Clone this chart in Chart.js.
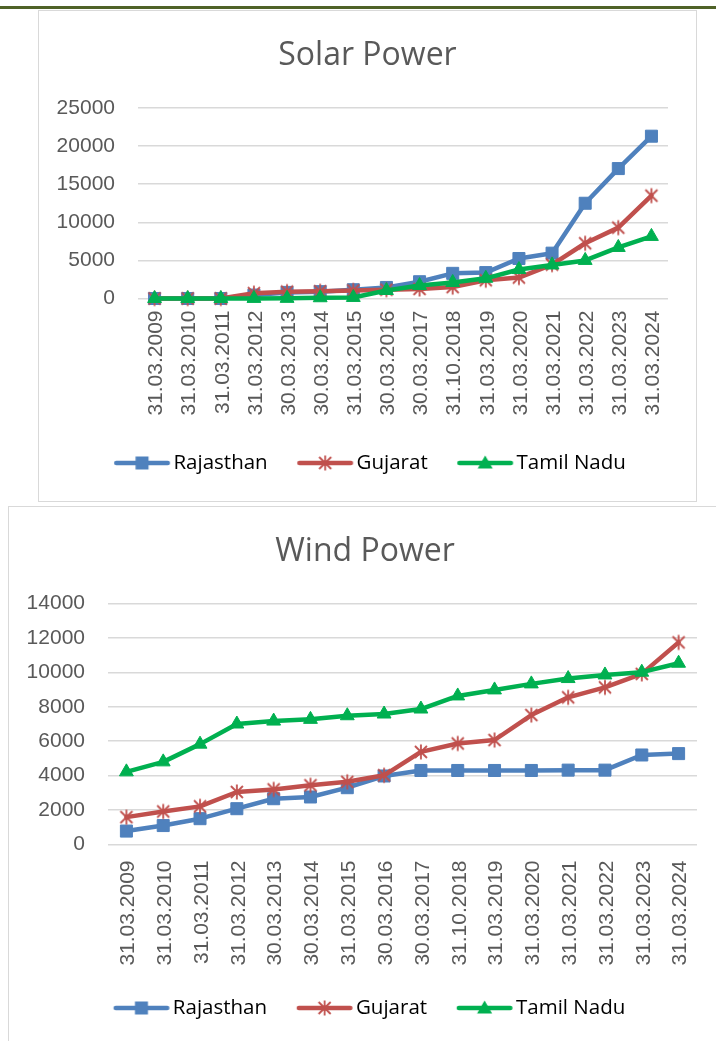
<!DOCTYPE html>
<html>
<head>
<meta charset="utf-8">
<script src="https://cdn.jsdelivr.net/npm/chart.js@4/dist/chart.umd.min.js"></script>
<style>
  html, body { margin: 0; padding: 0; background: #fff; overflow: hidden; width: 716px; height: 1041px; }
  #rule { position: absolute; left: 0; top: 6px; width: 716px; height: 3px; background: #4F6228; }
  .box { position: absolute; border: 1px solid #D9D9D9; background: #fff; }
  #solarBox { left: 38px; top: 10px; width: 657px; height: 490px; }
  #windBox { left: 8px; top: 506px; width: 712px; height: 540px; }
  canvas { display: block; }
</style>
</head>
<body>
<div id="rule"></div>
<div class="box" id="solarBox"><canvas id="solarChart" width="657" height="490"></canvas></div>
<div class="box" id="windBox"><canvas id="windChart" width="712" height="540"></canvas></div>

<script>
const dates = ["31.03.2009", "31.03.2010", "31.03.2011", "31.03.2012", "30.03.2013", "30.03.2014",
  "31.03.2015", "30.03.2016", "30.03.2017", "31.10.2018", "31.03.2019", "31.03.2020",
  "31.03.2021", "31.03.2022", "31.03.2023", "31.03.2024"];

const states = ["Rajasthan", "Gujarat", "Tamil Nadu"];

// solar, MW
const solarRajasthan = [0, 0, 0, 450, 800, 900, 1150, 1450, 2200, 3300, 3400, 5250, 5950, 12500, 17050, 21300];
const solarGujarat = [0, 0, 0, 700, 900, 950, 1050, 1150, 1250, 1500, 2400, 2750, 4450, 7250, 9300, 13500];
const solarTamilNadu = [0, 0, 0, 15, 20, 100, 140, 1050, 1700, 2100, 2650, 3800, 4400, 5000, 6700, 8150];
const solarTicks = [0, 5000, 10000, 15000, 20000, 25000];

// wind, MW
const windRajasthan = [780, 1100, 1500, 2080, 2660, 2760, 3300, 3980, 4300, 4300, 4300, 4300, 4320, 4320, 5200, 5280];
const windGujarat = [1590, 1920, 2215, 3050, 3200, 3440, 3640, 4020, 5380, 5870, 6070, 7520, 8550, 9130, 9910, 11740];
const windTamilNadu = [4220, 4800, 5830, 7000, 7170, 7270, 7480, 7580, 7870, 8630, 8980, 9330, 9640, 9850, 10010, 10530];
const windTicks = [0, 2000, 4000, 6000, 8000, 10000, 12000, 14000];

const colors = ["#4F81BD", "#C0504D", "#00B050"];
const markers = ["square", "star", "triangle"];
const textGrey = "#595959";
const gridGrey = "#D9D9D9";

function drawMarker(ctx, kind, x, y, color) {
  ctx.fillStyle = color;
  ctx.strokeStyle = color;
  if (kind === "square") {
    ctx.fillRect(x - 6.5, y - 6.5, 13, 13);
  } else if (kind === "triangle") {
    ctx.beginPath();
    ctx.moveTo(x, y - 7.5);
    ctx.lineTo(x + 7.5, y + 5.5);
    ctx.lineTo(x - 7.5, y + 5.5);
    ctx.closePath();
    ctx.fill();
  } else {
    ctx.lineWidth = 1.8;
    ctx.lineCap = "butt";
    ctx.beginPath();
    ctx.moveTo(x - 6, y - 6); ctx.lineTo(x + 6, y + 6);
    ctx.moveTo(x + 6, y - 6); ctx.lineTo(x - 6, y + 6);
    ctx.moveTo(x, y - 7.5); ctx.lineTo(x, y + 7.5);
    ctx.stroke();
  }
}

// asterisk point for Gujarat
const starPoint = document.createElement("canvas");
starPoint.width = 18; starPoint.height = 18;
drawMarker(starPoint.getContext("2d"), "star", 9, 9, colors[1]);

// legend icon = line with the marker in the middle; lineOff is the blank
// space in front of the line so the text follows right after it
const LINE_LEN = 56;
const ICON_W = 96;

function legendIcon(i, boxW, lineOff) {
  const c = document.createElement("canvas");
  c.width = ICON_W; c.height = 26;
  const ctx = c.getContext("2d");
  const x0 = lineOff - (boxW / 2 - ICON_W / 2);
  ctx.strokeStyle = colors[i];
  ctx.lineWidth = 4.5;
  ctx.lineCap = "round";
  ctx.beginPath();
  ctx.moveTo(x0 + 2.25, 13);
  ctx.lineTo(x0 + LINE_LEN - 2.25, 13);
  ctx.stroke();
  drawMarker(ctx, markers[i], x0 + LINE_LEN / 2, 13, colors[i]);
  return c;
}

function makeChart(id, title, series, ticks, box) {
  const styles = ["rect", starPoint, "triangle"];
  const boxW = 49.15 + box.lineOff;
  const icons = [0, 1, 2].map(i => legendIcon(i, boxW, box.lineOff));
  const datasets = series.map((vals, i) => ({
    label: states[i],
    data: vals,
    borderColor: colors[i],
    backgroundColor: colors[i],
    borderWidth: 4.5,
    borderJoinStyle: "round",
    borderCapStyle: "round",
    tension: 0,
    pointStyle: styles[i],
    pointRadius: i === 2 ? 8 : 8.5,
    pointBorderWidth: 1,
    pointBackgroundColor: colors[i],
    pointBorderColor: colors[i],
    clip: false,
    order: 3 - i
  }));

  return new Chart(document.getElementById(id), {
    type: "line",
    data: { labels: dates, datasets: datasets },
    options: {
      responsive: false,
      animation: false,
      events: [],
      layout: { padding: { left: 0, right: 0, top: 0, bottom: box.padBottom } },
      plugins: {
        title: {
          display: true,
          text: title,
          color: textGrey,
          font: { family: "'Open Sans', sans-serif", size: 32, weight: "normal", lineHeight: 1.2 },
          padding: { top: 25.8, bottom: box.titleBottom }
        },
        legend: {
          position: "bottom",
          labels: {
            usePointStyle: true,
            pointStyleWidth: boxW,
            padding: 29.5 - box.lineOff,
            color: textGrey,
            font: { family: "'Open Sans', sans-serif", size: 20.5 },
            generateLabels: () => states.map((s, i) => ({
              text: s,
              pointStyle: icons[i],
              fillStyle: colors[i],
              strokeStyle: colors[i],
              lineWidth: 0,
              hidden: false,
              datasetIndex: i
            }))
          }
        },
        tooltip: { enabled: false }
      },
      scales: {
        x: {
          offset: true,
          grid: { display: false, drawTicks: false, offset: true },
          border: { display: false },
          ticks: {
            autoSkip: false,
            minRotation: 90,
            maxRotation: 90,
            padding: box.xPad,
            labelOffset: 2,
            color: textGrey,
            font: { family: "'Liberation Sans', Arial, sans-serif", size: 21 }
          },
          afterFit: s => { s.height = box.xHeight; }
        },
        y: {
          min: ticks[0],
          max: ticks[ticks.length - 1],
          grid: { color: gridGrey, lineWidth: 1.5, drawTicks: false },
          border: { display: false },
          ticks: {
            stepSize: ticks[1] - ticks[0],
            padding: 23,
            color: textGrey,
            font: { family: "'Liberation Sans', Arial, sans-serif", size: 21 },
            callback: v => String(v)
          },
          afterFit: s => { s.width = 99; }
        },
        // empty right margin, keeps the title and legend centred on the whole box
        gap: {
          type: "linear",
          position: "right",
          grid: { display: false, drawTicks: false },
          border: { display: false },
          ticks: { display: false },
          afterFit: s => { s.width = box.padRight; }
        }
      }
    }
  });
}

makeChart("solarChart", "Solar Power", [solarRajasthan, solarGujarat, solarTamilNadu], solarTicks,
  { padRight: 28, padBottom: 17.75, titleBottom: 32.8, xHeight: 129.65, xPad: 12, lineOff: 4.9 });

makeChart("windChart", "Wind Power", [windRajasthan, windGujarat, windTamilNadu], windTicks,
  { padRight: 24, padBottom: 18.75, titleBottom: 32.3, xHeight: 132.45, xPad: 16, lineOff: 8.7 });
</script>
</body>
</html>
